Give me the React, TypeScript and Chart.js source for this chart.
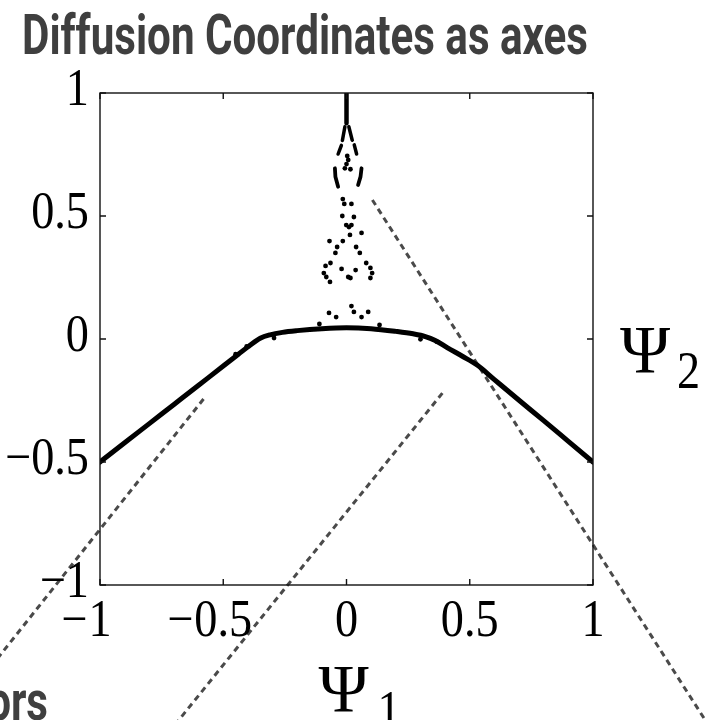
import React, { useEffect, useRef } from "react";
import { Chart, registerables } from "chart.js";

Chart.register(...registerables);

// Axis ticks
const xTicks = [-1, -0.5, 0, 0.5, 1];
const yTicks = [-1, -0.5, 0, 0.5, 1];

// Main branch of the embedding: Ψ2 against Ψ1
const branchX = [-1, -0.9, -0.8, -0.7, -0.6, -0.5, -0.44, -0.39, -0.35, -0.31, -0.26, -0.2, -0.1, 0, 0.1, 0.2, 0.27, 0.32, 0.36, 0.41, 0.47, 0.53, 0.6, 0.7, 0.8, 0.9, 1];
const branchY = [-0.5, -0.422, -0.344, -0.266, -0.188, -0.11, -0.063, -0.024, 0.003, 0.017, 0.027, 0.034, 0.042, 0.046, 0.042, 0.031, 0.021, 0.01, -0.006, -0.036, -0.07, -0.106, -0.165, -0.249, -0.332, -0.416, -0.5];

// Vertical spike near Ψ1 = 0: trunk, two forks and two short arcs
const trunkX = [0, 0];
const trunkY = [1.004, 0.877];
const forkLeftX = [-0.0065, -0.02, -0.028, -0.034];
const forkLeftY = [0.863, 0.789, 0.768, 0.752];
const forkRightX = [0.0095, 0.023, 0.03, 0.041];
const forkRightY = [0.863, 0.809, 0.795, 0.752];
const arcLeftX = [-0.047, -0.045, -0.034];
const arcLeftY = [0.694, 0.66, 0.619];
const arcRightX = [0.061, 0.057, 0.047];
const arcRightY = [0.694, 0.66, 0.626];

// Isolated samples scattered along the spike and the branch
const dotsX = [0.003, 0.007, 0, -0.0065, 0.016, -0.015, -0.009, 0.02, -0.017, 0.03, -0.001, 0.01, 0.02, 0.014, 0.061, -0.069, -0.015, -0.038, 0.039, -0.045, 0.054, -0.065, -0.085, -0.092, -0.082, -0.067, -0.02, 0.037, 0.007, 0.016, 0.08, 0.097, 0.104, 0.097, 0.02, -0.071, -0.042, 0.03, 0.061, 0.088, -0.11, 0.134, -0.294, 0.3, 0.366, -0.45, -0.405];
const dotsY = [0.744, 0.728, 0.711, 0.694, 0.69, 0.569, 0.549, 0.549, 0.5, 0.496, 0.463, 0.455, 0.463, 0.423, 0.431, 0.398, 0.398, 0.374, 0.374, 0.35, 0.35, 0.309, 0.297, 0.268, 0.252, 0.232, 0.285, 0.28, 0.252, 0.248, 0.309, 0.289, 0.268, 0.248, 0.134, 0.106, 0.089, 0.11, 0.089, 0.11, 0.061, 0.057, 0.004, -0.001, -0.011, -0.062, -0.03];

// Dashed guide lines running out of the axes
const guideAX = [-0.58, -1.566];
const guideAY = [-0.244, -1.488];
const guideBX = [0.389, -0.755];
const guideBY = [-0.22, -1.642];
const guideCX = [0.105, 1.517];
const guideCY = [0.565, -1.646];

const zip = (xs: number[], ys: number[]) => xs.map((x, i) => ({ x, y: ys[i] }));

const TICK_FONT = '52px "Liberation Serif"';
const TICK_SX = 0.89;
const LABEL_FONT = '68px "Liberation Serif"';
const TITLE_FONT = 'bold 55px Roboto';
const TITLE_COLOR = "#3f3f3f";

function drawScaled(
  ctx: CanvasRenderingContext2D,
  text: string,
  x: number,
  y: number,
  font: string,
  sx: number,
  align: "left" | "center" | "right"
): number {
  ctx.save();
  ctx.font = font;
  const w = ctx.measureText(text).width * sx;
  const left = align === "left" ? x : align === "center" ? x - w / 2 : x - w;
  ctx.translate(left, y);
  ctx.scale(sx, 1);
  ctx.textAlign = "left";
  ctx.textBaseline = "alphabetic";
  ctx.fillText(text, 0, 0);
  ctx.restore();
  return w;
}

const fmt = (v: number) => String(Math.abs(v));

const framePlugin = {
  id: "frameAndText",
  afterDraw(chart: any) {
    const ctx: CanvasRenderingContext2D = chart.ctx;
    const { left, right, top, bottom } = chart.chartArea;
    const xs = chart.scales.x;
    const ys = chart.scales.y;

    ctx.save();
    // box
    ctx.strokeStyle = "#111";
    ctx.lineWidth = 1.4;
    ctx.strokeRect(left, top, right - left, bottom - top);

    // inward ticks on all four sides
    const tl = 6;
    ctx.beginPath();
    for (const v of xTicks) {
      const p = xs.getPixelForValue(v);
      ctx.moveTo(p, bottom);
      ctx.lineTo(p, bottom - tl);
      ctx.moveTo(p, top);
      ctx.lineTo(p, top + tl);
    }
    for (const v of yTicks) {
      const p = ys.getPixelForValue(v);
      ctx.moveTo(left, p);
      ctx.lineTo(left + tl, p);
      ctx.moveTo(right, p);
      ctx.lineTo(right - tl, p);
    }
    ctx.stroke();

    // tick labels
    ctx.fillStyle = "#000";
    for (const v of xTicks) {
      const p = xs.getPixelForValue(v);
      const w = drawScaled(ctx, fmt(v), p, bottom + 51, TICK_FONT, TICK_SX, "center");
      if (v < 0) drawScaled(ctx, "\u2212", p - w / 2 - 1, bottom + 51, TICK_FONT, TICK_SX, "right");
    }
    for (const v of yTicks) {
      const p = ys.getPixelForValue(v);
      const s = (v < 0 ? "\u2212" : "") + fmt(v);
      drawScaled(ctx, s, left - 11, p + 12, TICK_FONT, TICK_SX, "right");
    }

    // axis labels
    const cx = (left + right) / 2;
    drawScaled(ctx, "\u03A8", cx - 28, bottom + 126, LABEL_FONT, 1, "left");
    drawScaled(ctx, "1", cx + 31, bottom + 142, TICK_FONT, TICK_SX, "left");
    const cy = ys.getPixelForValue(0);
    drawScaled(ctx, "\u03A8", right + 27, cy + 33, LABEL_FONT, 1, "left");
    drawScaled(ctx, "2", right + 84, cy + 49, TICK_FONT, TICK_SX, "left");

    // title
    ctx.fillStyle = TITLE_COLOR;
    ctx.font = TITLE_FONT;
    const title = "Diffusion Coordinates as axes";
    const tsx = 566 / ctx.measureText(title).width;
    drawScaled(ctx, title, 22, 54, TITLE_FONT, tsx, "left");
    drawScaled(ctx, "ors", 48, 720, TITLE_FONT, tsx, "right");
    ctx.restore();
  },
};

export default function App() {
  const ref = useRef<HTMLCanvasElement | null>(null);

  useEffect(() => {
    if (!ref.current) return;
    const line = (xs: number[], ys: number[], width: number, extra: any = {}) => ({
      data: zip(xs, ys),
      showLine: true,
      borderColor: "#000",
      backgroundColor: "#000",
      borderWidth: width,
      pointRadius: 0,
      borderCapStyle: "round",
      borderJoinStyle: "round",
      ...extra,
    });
    const guide = (xs: number[], ys: number[]) => ({
      data: zip(xs, ys),
      showLine: true,
      borderColor: "#4a4a4a",
      borderWidth: 3,
      borderDash: [6, 4.5],
      pointRadius: 0,
      clip: false,
    });

    const chart = new Chart(ref.current, {
      type: "scatter",
      data: {
        datasets: [
          line(branchX, branchY, 5, { cubicInterpolationMode: "monotone" }),
          line(trunkX, trunkY, 4.5),
          line(forkLeftX, forkLeftY, 3.5, { borderDash: [14, 5] }),
          line(forkRightX, forkRightY, 3.5, { borderDash: [14, 5] }),
          line(arcLeftX, arcLeftY, 3.8),
          line(arcRightX, arcRightY, 3.8),
          {
            data: zip(dotsX, dotsY),
            showLine: false,
            pointRadius: 2.4,
            pointBorderWidth: 0,
            backgroundColor: "#000",
          },
          guide(guideAX, guideAY),
          guide(guideBX, guideBY),
          guide(guideCX, guideCY),
        ] as any,
      },
      options: {
        responsive: false,
        animation: false,
        layout: { padding: { left: 100, right: 118, top: 93, bottom: 135 } },
        plugins: { legend: { display: false }, tooltip: { enabled: false } },
        scales: {
          x: {
            type: "linear",
            min: -1,
            max: 1,
            ticks: { display: false },
            grid: { display: false, drawTicks: false },
            border: { display: false },
            afterFit: (s: any) => {
              s.height = 0;
            },
          },
          y: {
            type: "linear",
            min: -1,
            max: 1,
            ticks: { display: false },
            grid: { display: false, drawTicks: false },
            border: { display: false },
            afterFit: (s: any) => {
              s.width = 0;
            },
          },
        },
      } as any,
      plugins: [framePlugin],
    });
    return () => chart.destroy();
  }, []);

  return (
    <div style={{ position: "fixed", left: 0, top: 0, width: 711, height: 720, background: "#fff" }}>
      <canvas ref={ref} width={711} height={720} style={{ display: "block" }} />
    </div>
  );
}
